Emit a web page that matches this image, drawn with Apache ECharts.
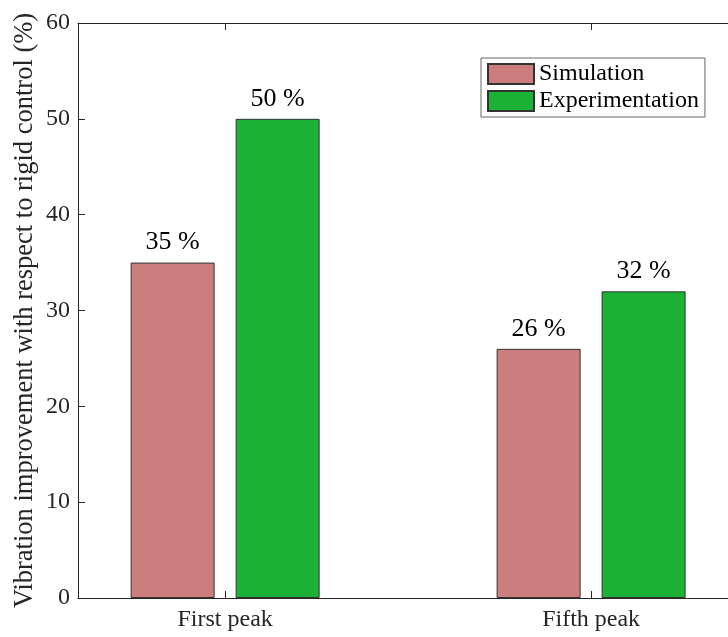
<!DOCTYPE html>
<html>
<head>
<meta charset="utf-8">
<script src="https://cdn.jsdelivr.net/npm/echarts@6/dist/echarts.min.js"></script>
<style>html,body{margin:0;padding:0;background:#fff}#c{width:728px;height:637px}</style>
</head>
<body>
<div id="c"></div>
<script>
const categories = ['First peak', 'Fifth peak'];
const categoryPositions = [1, 2];
const simulation = [35, 26];
const experimentation = [50, 32];
const seriesNames = ['Simulation', 'Experimentation'];
const yMin = 0, yMax = 60, yStep = 10;
const yTitle = 'Vibration improvement with respect to rigid control (%)';

const font = 'Liberation Serif';
const axisColor = '#262626';
const chart = echarts.init(document.getElementById('c'));

const toPairs = vals => vals.map((v, i) => [categoryPositions[i], v]);
const labelCfg = {
  show: true, position: 'top', distance: 7,
  fontFamily: font, fontSize: 26, color: '#000',
  formatter: p => p.value[1] + ' %'
};

chart.setOption({
  animation: false,
  backgroundColor: '#fff',
  grid: { left: 78, top: 23, bottom: 39, right: 0 },
  legend: {
    orient: 'vertical', left: 481, top: 58,
    itemWidth: 46, itemHeight: 20, itemGap: 3,
    padding: [4, 6, 4, 6],
    borderColor: '#666', borderWidth: 1,
    textStyle: { fontFamily: font, fontSize: 24, lineHeight: 24, color: '#000' },
    data: seriesNames.map(n => ({ name: n, icon: 'rect' }))
  },
  xAxis: [{
    type: 'value', min: 0.598, max: 2.374,
    axisLine: { show: true, lineStyle: { color: axisColor } },
    axisTick: { show: true, inside: true, length: 7, customValues: categoryPositions, lineStyle: { color: axisColor } },
    axisLabel: {
      customValues: categoryPositions, margin: 10,
      fontFamily: font, fontSize: 24, color: axisColor,
      formatter: v => categories[categoryPositions.indexOf(v)] || ''
    },
    splitLine: { show: false }
  }, {
    type: 'value', min: 0.598, max: 2.374, position: 'top',
    axisLine: { show: true, lineStyle: { color: axisColor } },
    axisTick: { show: true, inside: true, length: 7, customValues: categoryPositions, lineStyle: { color: axisColor } },
    axisLabel: { show: false },
    splitLine: { show: false }
  }],
  yAxis: {
    type: 'value', min: yMin, max: yMax, interval: yStep,
    name: yTitle, nameLocation: 'middle', nameGap: 39, nameMoveOverlap: false,
    nameTextStyle: { fontFamily: font, fontSize: 26.5, color: axisColor },
    axisLine: { show: true, lineStyle: { color: axisColor } },
    axisTick: { show: true, inside: true, length: 7, lineStyle: { color: axisColor } },
    axisLabel: { fontFamily: font, fontSize: 24, color: axisColor, margin: 8 },
    splitLine: { show: false }
  },
  series: [{
    name: seriesNames[0], type: 'bar', xAxisIndex: 0,
    data: toPairs(simulation), barWidth: 84, barGap: '25%',
    itemStyle: { color: '#CC7E7E', borderColor: '#333', borderWidth: 1 },
    label: labelCfg
  }, {
    name: seriesNames[1], type: 'bar', xAxisIndex: 0,
    data: toPairs(experimentation), barWidth: 84, barGap: '25%',
    itemStyle: { color: '#1BB235', borderColor: '#333', borderWidth: 1 },
    label: labelCfg
  }]
});
</script>
</body>
</html>
